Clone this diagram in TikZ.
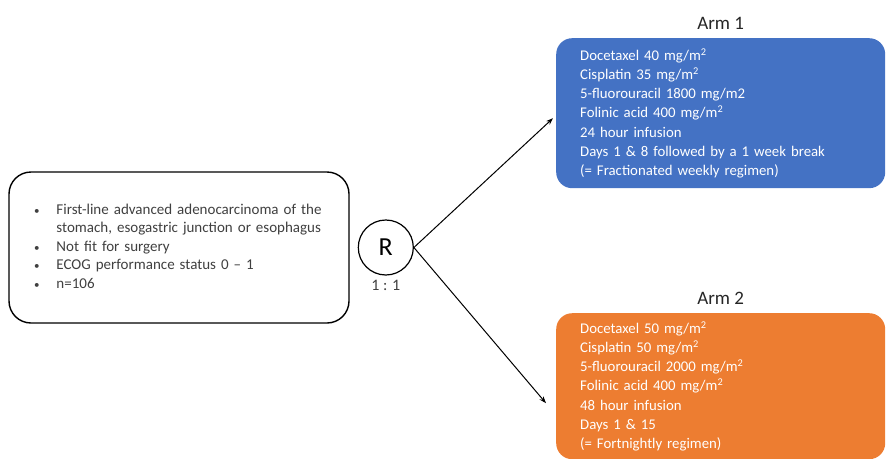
\documentclass[tikz,border=0pt]{standalone}
\usepackage{fontspec}
\setmainfont{Carlito}
\usetikzlibrary{arrows.meta,positioning}
\definecolor{armblue}{HTML}{4472C4}
\definecolor{armorange}{HTML}{ED7D31}
\definecolor{textgray}{HTML}{404040}
\newcommand{\popbullet}{{\fontsize{11}{11}\selectfont\textbullet}}

\begin{document}
\begin{tikzpicture}[
    x=1pt,y=-1pt,
    font=\fontsize{15}{18.5}\selectfont,
    pop/.style={draw=black,line width=1.4pt,rounded corners=22pt,fill=white,text width=290pt,inner xsep=25pt,minimum height=151pt,align=left,text=textgray},
    arm/.style={rounded corners=16pt,anchor=north west,text width=281pt,inner xsep=24pt,align=left,text=white,font=\fontsize{14.8}{19.2}\selectfont},
    armlabel/.style={inner sep=0pt,font=\fontsize{19}{19}\selectfont,text=black!85},
    rnd/.style={circle,draw=black,line width=1.2pt,minimum size=55pt,inner sep=0pt,font=\fontsize{26}{26}\selectfont},
    arr/.style={-{Stealth[length=7pt,width=5pt]},line width=1pt}
]
\useasboundingbox (0,0) rectangle (886,458);

% population
\node[pop] (population) at (179,247.5) {%
  \begin{tabular}{@{}l@{\hspace{17pt}}l@{}}
  \popbullet & First-line advanced adenocarcinoma of the\\
             & stomach, esogastric junction or esophagus\\
  \popbullet & Not fit for surgery\\
  \popbullet & ECOG performance status 0 -- 1\\
  \popbullet & n=106
  \end{tabular}};

% randomisation
\node[rnd,right=8pt of population] (random) {R};
\node[below=4pt of random,inner sep=0pt,text=textgray,font=\fontsize{16}{16}\selectfont] (ratio) {1 : 1};

% arms
\node[arm,fill=armblue,minimum height=150pt] (armone) at (556,38) {%
  Docetaxel 40 mg/m\textsuperscript{2}\\
  Cisplatin 35 mg/m\textsuperscript{2}\\
  5-fluorouracil 1800 mg/m2\\
  Folinic acid 400 mg/m\textsuperscript{2}\\
  24 hour infusion\\
  Days 1 \& 8 followed by a 1 week break\\
  (= Fractionated weekly regimen)};
\node[arm,fill=armorange,minimum height=146pt] (armtwo) at (556,313) {%
  Docetaxel 50 mg/m\textsuperscript{2}\\
  Cisplatin 50 mg/m\textsuperscript{2}\\
  5-fluorouracil 2000 mg/m\textsuperscript{2}\\
  Folinic acid 400 mg/m\textsuperscript{2}\\
  48 hour infusion\\
  Days 1 \& 15\\
  (= Fortnightly regimen)};

\node[armlabel,above=8pt of armone] (labelone) {Arm 1};
\node[armlabel,above=8pt of armtwo] (labeltwo) {Arm 2};

\draw[arr] (random.east) -- ([shift={(-3,5)}]armone.west);
\draw[arr] (random.east) -- ([shift={(-10,17)}]armtwo.west);
\end{tikzpicture}
\end{document}
